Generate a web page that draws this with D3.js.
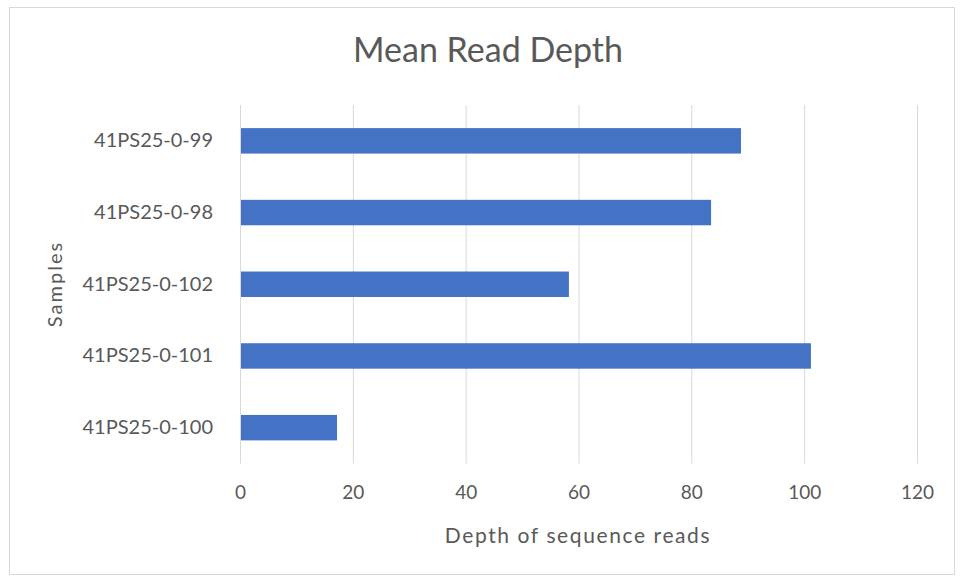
<!DOCTYPE html>
<html><head><meta charset="utf-8">
<script src="https://cdnjs.cloudflare.com/ajax/libs/d3/7.8.5/d3.min.js"></script>
<style>body{margin:0;background:#fff}svg{display:block}</style>
</head><body>
<svg id="c" width="964" height="580"></svg>
<script>
const categories = ["41PS25-0-99","41PS25-0-98","41PS25-0-102","41PS25-0-101","41PS25-0-100"];
const values = [88.8, 83.5, 58.3, 101.2, 17.2];
const xTicks = [0,20,40,60,80,100,120];
const title = "Mean Read Depth";
const xTitle = "Depth of sequence reads";
const yTitle = "Samples";

const svg = d3.select("#c");
const font = "Lato, 'Open Sans', sans-serif";
const txt = "#595959";
const m = {left:240, right:917, top:105, bottom:463.5};

svg.append("rect").attr("x",9.5).attr("y",7.5).attr("width",945).attr("height",567)
  .attr("fill","#fff").attr("stroke","#d9d9d9");

const x = d3.scaleLinear().domain([0,120]).range([m.left,m.right]);
const y = d3.scaleBand().domain(categories).range([m.top,m.bottom]).paddingInner(0.645).paddingOuter(0.3225);

svg.append("g").selectAll("line").data(xTicks).join("line")
  .attr("x1",d=>x(d)+0.5).attr("x2",d=>x(d)+0.5).attr("y1",m.top).attr("y2",m.bottom)
  .attr("stroke","#d9d9d9").attr("stroke-width",1);

svg.append("g").selectAll("rect").data(categories).join("rect")
  .attr("x",x(0)+1).attr("y",d=>y(d)).attr("height",y.bandwidth())
  .attr("width",(d,i)=>x(values[i])-x(0)-1).attr("fill","#4472C4");

const xa = svg.append("g").attr("transform",`translate(0,${m.bottom})`)
  .call(d3.axisBottom(x).tickValues(xTicks).tickSize(0).tickPadding(22));
xa.select(".domain").remove();
xa.selectAll("text").attr("fill",txt).style("font-family",font).style("font-size","19px");

const ya = svg.append("g").attr("transform",`translate(${m.left},0)`)
  .call(d3.axisLeft(y).tickSize(0).tickPadding(27));
ya.select(".domain").remove();
ya.selectAll("text").attr("fill",txt).style("font-family",font).style("font-size","20px");

svg.append("text").attr("x",488).attr("y",62).attr("text-anchor","middle")
  .attr("fill",txt).style("font-family",font).style("font-size","34px").text(title);
svg.append("text").attr("x",578).attr("y",543).attr("text-anchor","middle")
  .attr("fill",txt).style("font-family",font).style("font-size","21px").style("letter-spacing","1.6px").text(xTitle);
svg.append("text").attr("transform","translate(62,284) rotate(-90)").attr("text-anchor","middle")
  .attr("fill",txt).style("font-family",font).style("font-size","20px").style("letter-spacing","2px").text(yTitle);
</script>
</body></html>
